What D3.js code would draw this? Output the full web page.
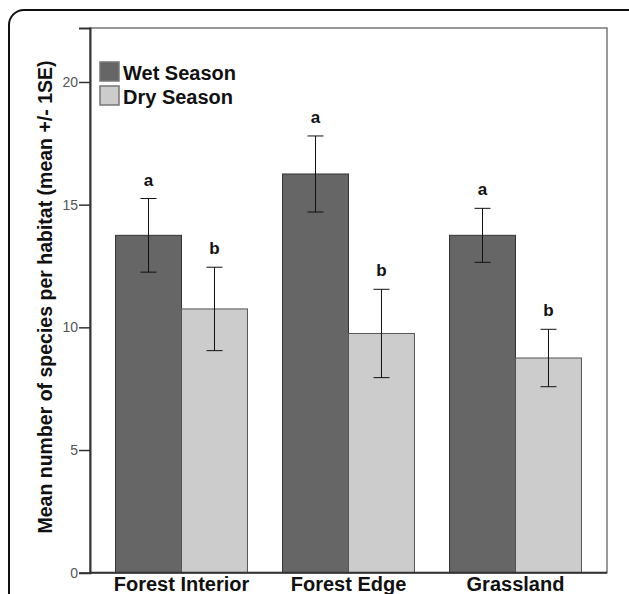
<!DOCTYPE html>
<html>
<head>
<meta charset="utf-8">
<script src="https://cdn.jsdelivr.net/npm/d3@7"></script>
<style>
  body { margin: 0; background: #fff; }
  svg { display: block; font-family: "Liberation Sans", Arial, sans-serif; }
</style>
</head>
<body>
<div id="chart"></div>
<script>
// data
const categories = ["Forest Interior", "Forest Edge", "Grassland"];
const seasons = ["Wet Season", "Dry Season"];
const wetMeans = [13.75, 16.25, 13.75];
const wetSE = [1.5, 1.55, 1.1];
const dryMeans = [10.75, 9.75, 8.75];
const drySE = [1.7, 1.8, 1.17];
const wetLetters = ["a", "a", "a"];
const dryLetters = ["b", "b", "b"];
const yTicks = [0, 5, 10, 15, 20];

let width = 629, height = 594;
let margin = { top: 28, right: 22, bottom: 21.3, left: 90 };
let colors = { "Wet Season": "#666666", "Dry Season": "#cccccc" };

// flatten into rows for the bars
let rows = [];
categories.forEach((c, i) => {
    rows.push({ cat: c, season: "Wet Season", mean: wetMeans[i], se: wetSE[i], letter: wetLetters[i] });
    rows.push({ cat: c, season: "Dry Season", mean: dryMeans[i], se: drySE[i], letter: dryLetters[i] });
});

var svg = d3.select("#chart").append("svg")
    .attr("width", width)
    .attr("height", height);

// outer rounded frame (runs off the right and bottom)
svg.append("rect")
    .attr("x", 9).attr("y", 10)
    .attr("width", 640).attr("height", 620)
    .attr("rx", 15)
    .attr("fill", "none")
    .attr("stroke", "#111")
    .attr("stroke-width", 2);

var x = d3.scaleBand()
    .domain(categories)
    .range([margin.left, width - margin.right])
    .paddingInner(0.21)
    .paddingOuter(0.153);

var xs = d3.scaleBand()
    .domain(seasons)
    .range([0, x.bandwidth()]);

var y = d3.scaleLinear()
    .domain([0, 22.2])
    .range([height - margin.bottom, margin.top]);

// plot frame
svg.append("rect")
    .attr("x", margin.left).attr("y", margin.top)
    .attr("width", width - margin.right - margin.left)
    .attr("height", height - margin.bottom - margin.top)
    .attr("fill", "none")
    .attr("stroke", "#777")
    .attr("stroke-width", 1.5);

// bars
svg.append("g")
    .selectAll("rect")
    .data(rows)
    .enter()
    .append("rect")
    .attr("x", d => x(d.cat) + xs(d.season))
    .attr("y", d => y(d.mean))
    .attr("width", xs.bandwidth())
    .attr("height", d => y(0) - y(d.mean))
    .attr("fill", d => colors[d.season])
    .attr("stroke", d => d.season == "Wet Season" ? "#333" : "#555")
    .attr("stroke-width", 1);

// error bars
var err = svg.append("g")
    .attr("stroke", "#111")
    .attr("stroke-width", 1)
    .selectAll("g")
    .data(rows)
    .enter()
    .append("g")
    .attr("transform", d => "translate(" + (x(d.cat) + xs(d.season) + xs.bandwidth() / 2) + ",0)");
err.append("line")
    .attr("y1", d => y(d.mean + d.se))
    .attr("y2", d => y(d.mean - d.se));
err.append("line")
    .attr("x1", -8).attr("x2", 8)
    .attr("y1", d => y(d.mean + d.se))
    .attr("y2", d => y(d.mean + d.se));
err.append("line")
    .attr("x1", -8).attr("x2", 8)
    .attr("y1", d => y(d.mean - d.se))
    .attr("y2", d => y(d.mean - d.se));

// significance letters
svg.append("g")
    .selectAll("text")
    .data(rows)
    .enter()
    .append("text")
    .attr("x", d => x(d.cat) + xs(d.season) + xs.bandwidth() / 2)
    .attr("y", d => y(d.mean + d.se) - 13)
    .attr("text-anchor", "middle")
    .style("font-size", "17px")
    .style("font-weight", "bold")
    .attr("fill", "#111")
    .text(d => d.letter);

// y axis
var yAxis = svg.append("g")
    .attr("transform", "translate(" + margin.left + ",0)")
    .call(d3.axisLeft(y).tickValues(yTicks).tickSize(11).tickPadding(1).tickFormat(d3.format("d")));
yAxis.select(".domain").attr("stroke", "#333").attr("stroke-width", 2);
yAxis.selectAll(".tick line").attr("stroke", "#333").attr("stroke-width", 1.5);
yAxis.selectAll(".tick text")
    .attr("fill", "#555")
    .style("font-size", "14px")
    .style("font-family", "Liberation Sans, Arial, sans-serif");

// x axis line and labels
svg.append("line")
    .attr("x1", margin.left).attr("x2", width - margin.right)
    .attr("y1", y(0)).attr("y2", y(0))
    .attr("stroke", "#333").attr("stroke-width", 2);
svg.append("g")
    .selectAll("text")
    .data(categories)
    .enter()
    .append("text")
    .attr("x", d => x(d) + x.bandwidth() / 2)
    .attr("y", y(0) + 18)
    .attr("text-anchor", "middle")
    .style("font-size", "20px")
    .style("font-weight", "bold")
    .attr("fill", "#111")
    .text(d => d);

// y axis title
svg.append("text")
    .attr("transform", "translate(52,297) rotate(-90)")
    .attr("text-anchor", "middle")
    .style("font-size", "19.5px")
    .style("font-weight", "bold")
    .attr("fill", "#111")
    .text("Mean number of species per habitat (mean +/- 1SE)");

// legend
var legend = svg.append("g")
    .selectAll("g")
    .data(seasons)
    .enter()
    .append("g")
    .attr("transform", (d, i) => "translate(100," + (62 + i * 24) + ")");
legend.append("rect")
    .attr("width", 19).attr("height", 19)
    .attr("fill", d => colors[d])
    .attr("stroke", "#777")
    .attr("stroke-width", 1.5);
legend.append("text")
    .attr("x", 23).attr("y", 17.5)
    .style("font-size", "20px")
    .style("font-weight", "bold")
    .attr("fill", "#111")
    .text(d => d);
</script>
</body>
</html>
